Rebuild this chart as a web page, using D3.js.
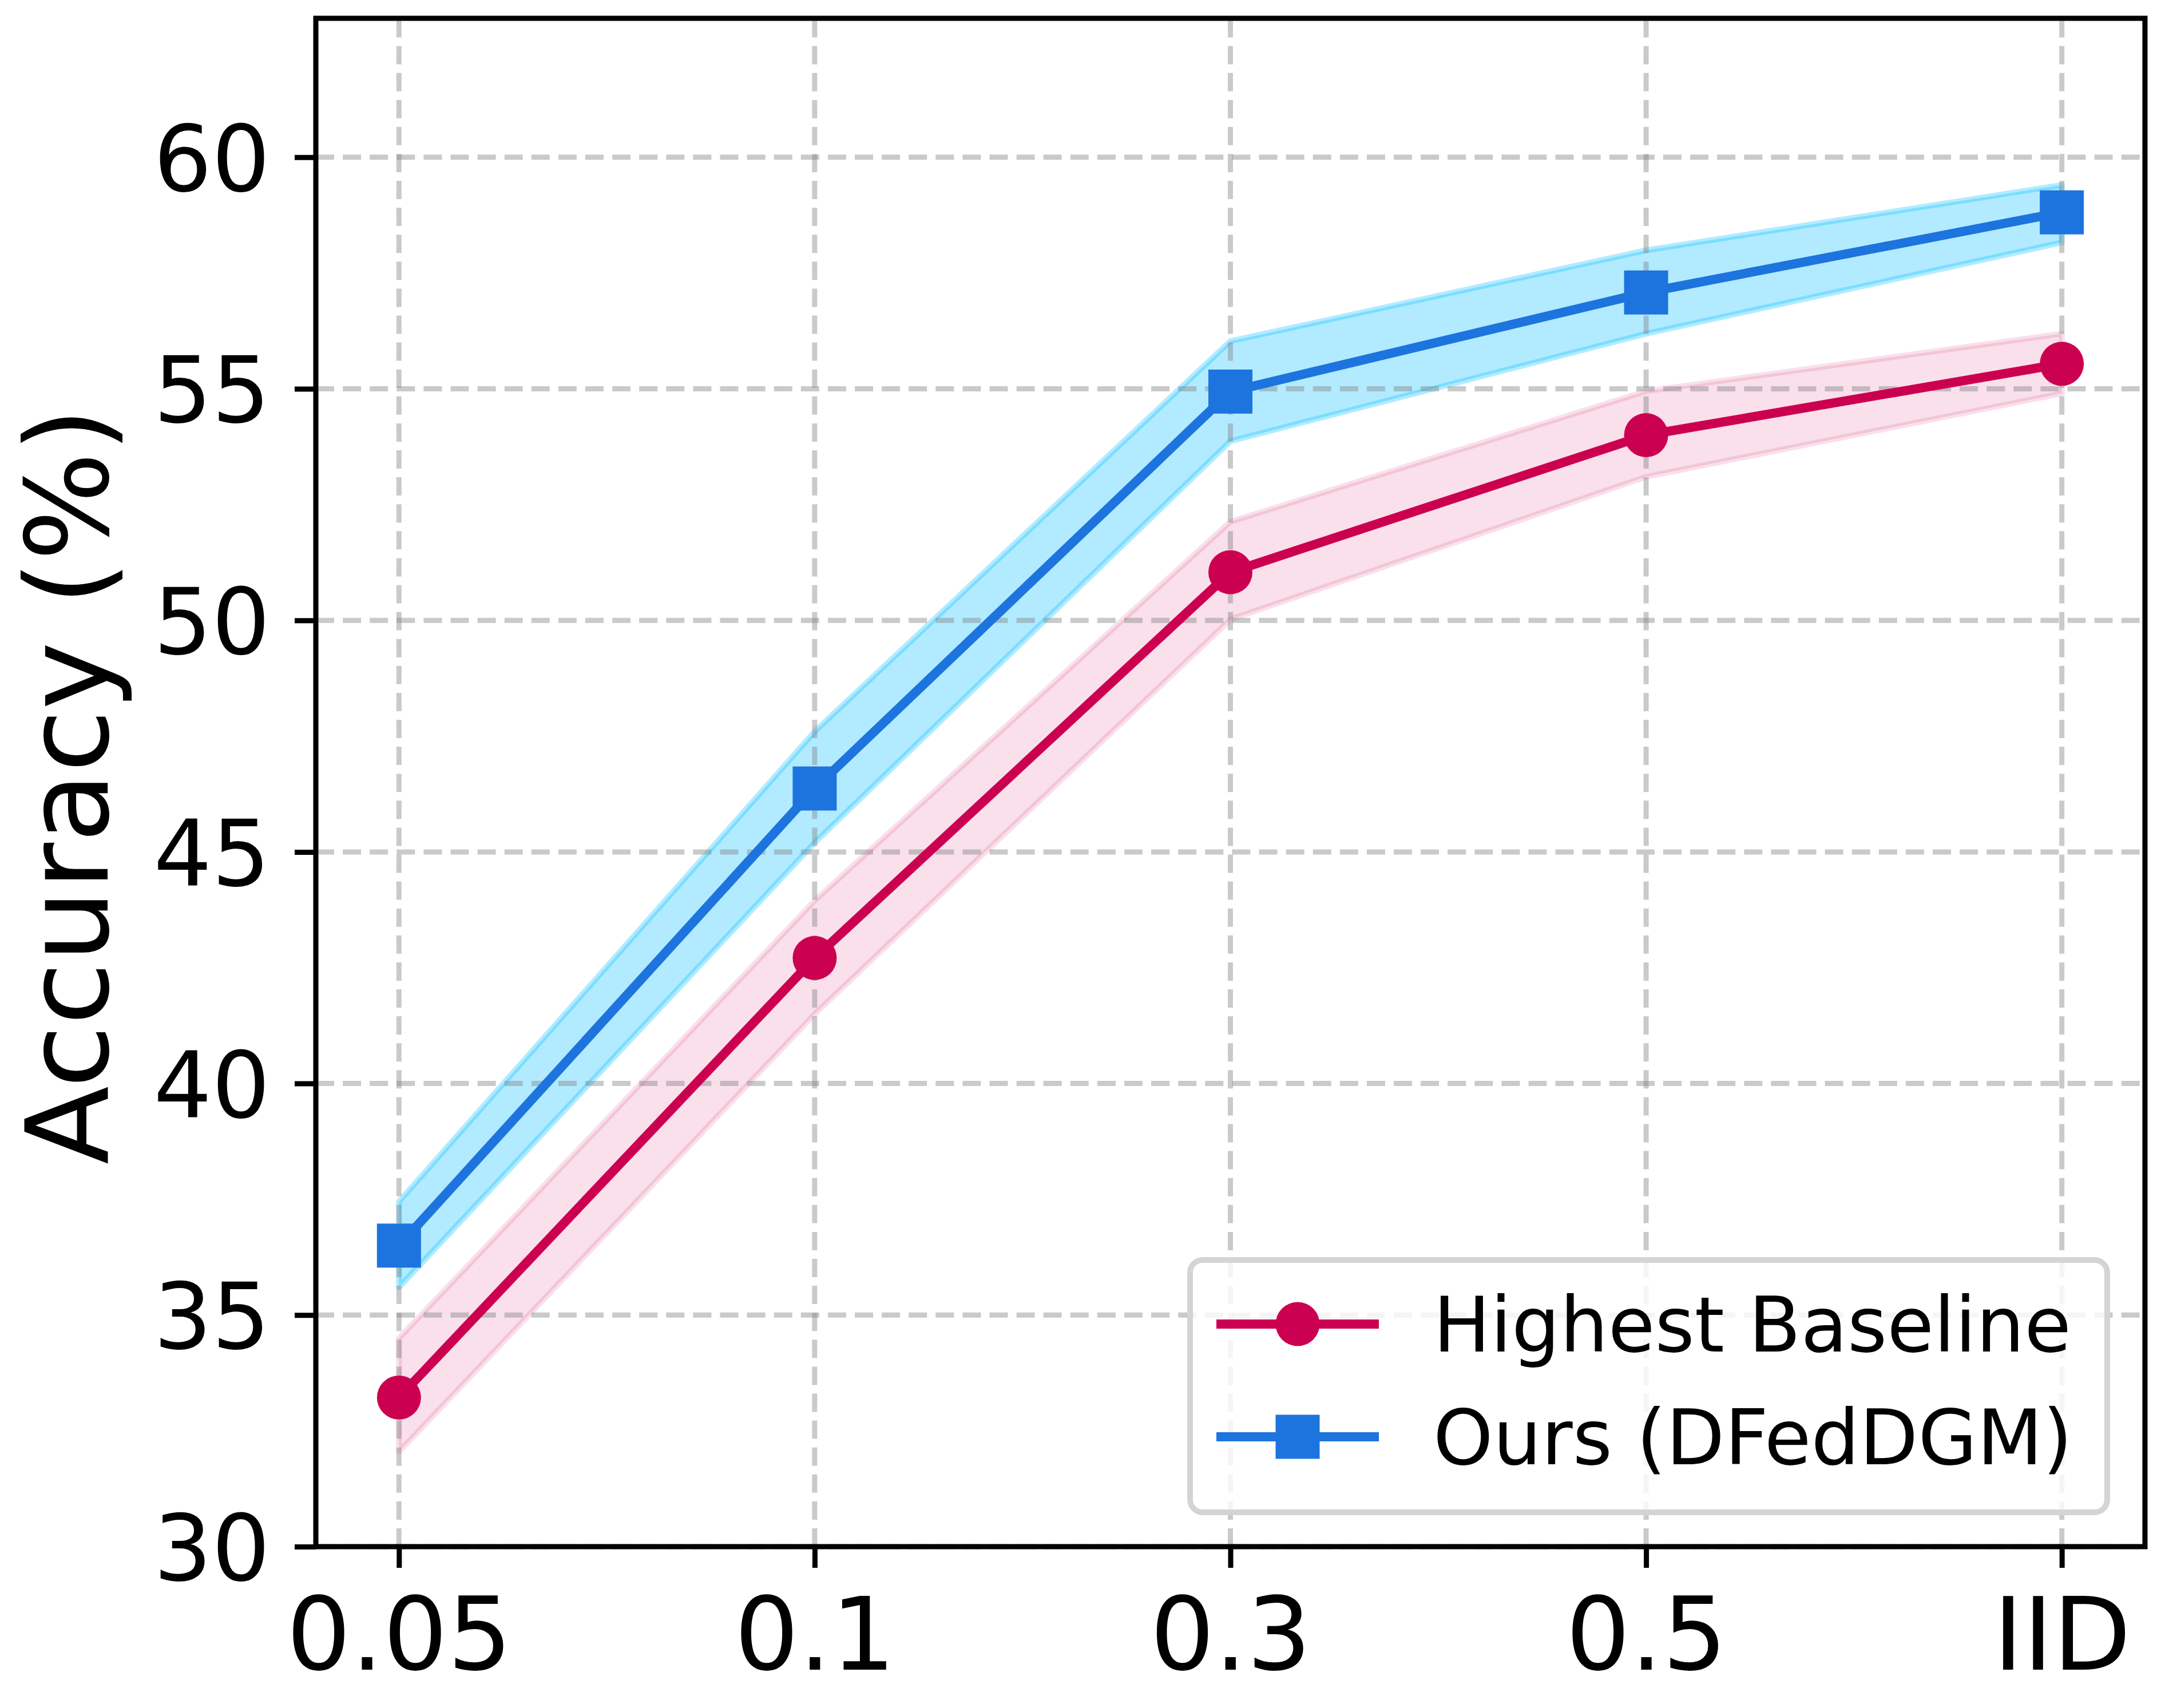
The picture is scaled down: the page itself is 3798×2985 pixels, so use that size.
<!DOCTYPE html>
<html lang="en">
<head>
  <meta charset="UTF-8">
  <title>Accuracy vs heterogeneity</title>
  <script src="https://cdn.jsdelivr.net/npm/d3@7"></script>
  <style>
    body { margin: 0; background: #fff; }
    text { font-family: "DejaVu Sans", sans-serif; }
  </style>
</head>
<body>
<div id="chart"></div>
<script>

// values
var categories = ["0.05", "0.1", "0.3", "0.5", "IID"];
var yTicks = [30, 35, 40, 45, 50, 55, 60];

var baseline   = [33.22, 42.71, 51.04, 54.0, 55.54];
var baselineLo = [32.05, 41.5, 50.02, 53.1, 54.9];
var baselineHi = [34.5, 43.95, 52.13, 54.95, 56.19];

var ours   = [36.5, 46.37, 54.94, 57.08, 58.81];
var oursLo = [35.6, 45.2, 53.87, 56.19, 58.16];
var oursHi = [37.45, 47.6, 56.03, 57.99, 59.4];

var W = 3798, H = 2985;
var margin = {top: 32, right: 49, bottom: 282, left: 552};

var svg = d3.select("#chart")
    .append("svg")
    .attr("width", W)
    .attr("height", H);

svg.append("rect").attr("width", W).attr("height", H).attr("fill", "#fff");

var xScale = d3.scalePoint()
    .domain(categories)
    .range([margin.left, W - margin.right])
    .padding(0.2);

var yScale = d3.scaleLinear()
    .domain([30, 63])
    .range([H - margin.bottom, margin.top]);

var x0 = margin.left, x1 = W - margin.right;
var y0 = H - margin.bottom, y1 = margin.top;

function rows(mid, lo, hi) {
    return categories.map(function(c, i) {
        return {cat: c, v: mid[i], lo: lo[i], hi: hi[i]};
    });
}

var series = [
    {name: "Highest Baseline", color: "#cc0050", band: "#cc0050", bandAlpha: 0.12,
     marker: "circle", data: rows(baseline, baselineLo, baselineHi)},
    {name: "Ours (DFedDGM)", color: "#1d74de", band: "#00bcff", bandAlpha: 0.3,
     marker: "square", data: rows(ours, oursLo, oursHi)}
];

var area = d3.area()
    .x(function(d) { return xScale(d.cat); })
    .y0(function(d) { return yScale(d.lo); })
    .y1(function(d) { return yScale(d.hi); });

var line = d3.line()
    .x(function(d) { return xScale(d.cat); })
    .y(function(d) { return yScale(d.v); });

// bands first (grid sits above them, like matplotlib)
series.forEach(function(s) {
    svg.append("path")
        .datum(s.data)
        .attr("d", area)
        .attr("fill", s.band)
        .attr("fill-opacity", s.bandAlpha)
        .attr("stroke", s.band)
        .attr("stroke-opacity", s.bandAlpha)
        .attr("stroke-width", 10)
        .attr("stroke-linejoin", "round");
});

// grid
var grid = svg.append("g")
    .attr("stroke", "#808080")
    .attr("stroke-opacity", 0.42)
    .attr("stroke-width", 9)
    .attr("stroke-dasharray", "32,15.1");

grid.selectAll("line.gx")
    .data(categories)
    .enter().append("line")
    .attr("class", "gx")
    .attr("x1", function(d) { return xScale(d); })
    .attr("x2", function(d) { return xScale(d); })
    .attr("y1", y0)
    .attr("y2", y1);

grid.selectAll("line.gy")
    .data(yTicks)
    .enter().append("line")
    .attr("class", "gy")
    .attr("x1", x0)
    .attr("x2", x1)
    .attr("y1", function(d) { return yScale(d); })
    .attr("y2", function(d) { return yScale(d); });

// lines and markers
function drawMarker(g, type, color) {
    if (type === "circle") {
        g.append("circle").attr("r", 38.5).attr("fill", color);
    } else {
        g.append("rect").attr("x", -38.5).attr("y", -38.5)
            .attr("width", 77).attr("height", 77).attr("fill", color);
    }
}

series.forEach(function(s) {
    svg.append("path")
        .datum(s.data)
        .attr("d", line)
        .attr("fill", "none")
        .attr("stroke", s.color)
        .attr("stroke-width", 16)
        .attr("stroke-linejoin", "round");

    svg.selectAll(null)
        .data(s.data)
        .enter().append("g")
        .attr("transform", function(d) { return "translate(" + xScale(d.cat) + "," + yScale(d.v) + ")"; })
        .each(function() { drawMarker(d3.select(this), s.marker, s.color); });
});

// axes
var yAxis = svg.append("g")
    .attr("transform", "translate(" + x0 + ",0)")
    .call(d3.axisLeft(yScale).tickValues(yTicks).tickSize(37).tickPadding(43).tickSizeOuter(0));

yAxis.select(".domain").remove();
yAxis.selectAll(".tick line").attr("stroke-width", 9);
yAxis.selectAll(".tick text")
    .attr("font-size", 160)
    .attr("fill", "#000")
    .attr("dy", "0.365em");

var xAxis = svg.append("g")
    .attr("transform", "translate(0," + y0 + ")")
    .call(d3.axisBottom(xScale).tickSize(37).tickPadding(52).tickSizeOuter(0));

xAxis.select(".domain").remove();
xAxis.selectAll(".tick line").attr("stroke-width", 9);
xAxis.selectAll(".tick text")
    .attr("font-size", 177)
    .attr("fill", "#000");

// frame
svg.append("rect")
    .attr("x", x0).attr("y", y1)
    .attr("width", x1 - x0).attr("height", y0 - y1)
    .attr("fill", "none")
    .attr("stroke", "#000")
    .attr("stroke-width", 9);

svg.append("text")
    .attr("transform", "translate(188," + ((y0 + y1) / 2 + 6) + ") rotate(-90)")
    .attr("text-anchor", "middle")
    .attr("font-size", 200)
    .text("Accuracy (%)");

// legend
var legend = svg.append("g").attr("transform", "translate(2080,2202)");

legend.append("rect")
    .attr("width", 1603)
    .attr("height", 441)
    .attr("rx", 22)
    .attr("fill", "#fff")
    .attr("fill-opacity", 0.8)
    .attr("stroke", "#d4d4d4")
    .attr("stroke-width", 10);

var item = legend.selectAll("g.item")
    .data(series)
    .enter().append("g")
    .attr("class", "item")
    .attr("transform", function(d, i) { return "translate(0," + (112 + i * 197) + ")"; });

item.append("line")
    .attr("x1", 46).attr("x2", 330)
    .attr("stroke", function(d) { return d.color; })
    .attr("stroke-width", 16);

item.each(function(d) {
    var g = d3.select(this).append("g").attr("transform", "translate(188,0)");
    drawMarker(g, d.marker, d.color);
});

item.append("text")
    .attr("x", 425)
    .attr("y", 48)
    .attr("font-size", 133)
    .text(function(d) { return d.name; });

</script>
</body>
</html>
